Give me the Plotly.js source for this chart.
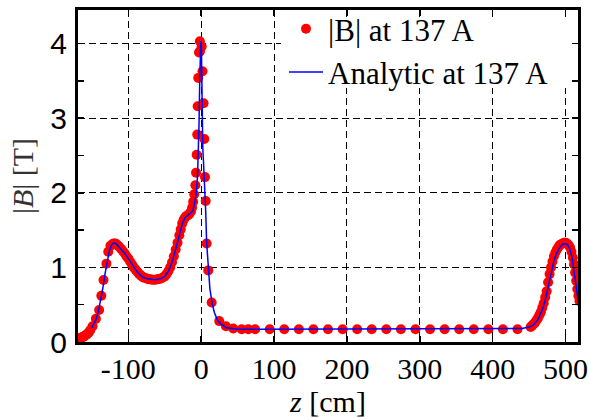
<!DOCTYPE html>
<html>
<head>
<meta charset="utf-8">
<script src="https://cdn.plot.ly/plotly-3.0.1.min.js"></script>
<style>
html,body{margin:0;padding:0;background:#fff;}
#chart{width:589px;height:418px;}
</style>
</head>
<body>
<div id="chart"></div>
<script>
// Measured |B| (red dots): position z [cm] and field [T]
const measZ = [
  -169, -167.5, -166, -164.5, -163, -161.5, -160, -158.5, -157, -155.5, -154, -152, -149,
  -144.5, -140, -137, -134, -130, -127.5, -124.5,
  -122, -120, -118, -116, -114, -112, -110, -107.5, -105, -102.5, -100, -97.5, -95, -92.5,
  -90, -87.5, -85, -82.5, -80, -77.5, -75, -72.5, -70, -67.5, -65, -62.5, -60, -57.5,
  -55, -52.5, -50, -47.5, -45, -42.5, -40, -37.5, -35, -32.5, -30, -28, -26, -24, -22,
  -20, -18, -16, -14, -12.5, -11, -9.5, -8, -7, -6.2, -5.4, -4.8, -4, -3, -1.8, -1.5,
  0.7, 1.8, 3.3, 4.3, 5.2, 6.2, 7.5, 9.7, 14.4, 24.8, 34, 44, 55.6, 64.6, 74,
  94, 114, 134, 154, 174, 194, 214, 234, 254, 274, 294, 314, 334, 354, 374, 394, 414, 434,
  452, 454, 456, 458, 460, 462, 464, 466, 468, 470, 472, 474, 476, 478, 480, 482, 484,
  486, 488, 490, 492, 494, 496, 498, 500, 502, 504, 506, 508, 510, 511.5, 513, 514.5,
  516, 517.5, 519
];
const measB = [
  0.04, 0.045, 0.05, 0.06, 0.065, 0.07, 0.08, 0.09, 0.10, 0.115, 0.13, 0.16, 0.21,
  0.31, 0.43, 0.62, 0.83, 1.05, 1.21, 1.29,
  1.31, 1.32, 1.32, 1.31, 1.29, 1.27, 1.25, 1.22, 1.19, 1.15, 1.12, 1.08, 1.04, 1.00,
  0.97, 0.94, 0.91, 0.89, 0.87, 0.86, 0.85, 0.84, 0.84, 0.835, 0.835, 0.835, 0.84, 0.845,
  0.85, 0.865, 0.88, 0.91, 0.95, 1.00, 1.07, 1.15, 1.24, 1.33, 1.43, 1.51, 1.59, 1.64, 1.67,
  1.69, 1.70, 1.72, 1.75, 1.80, 1.88, 1.98, 2.10, 2.27, 2.51, 2.78, 3.16, 3.54, 3.88, 4.03, 3.90,
  3.96, 3.63, 3.20, 2.72, 2.21, 1.89, 1.32, 0.96, 0.53, 0.28, 0.21, 0.18, 0.17, 0.17, 0.17,
  0.17, 0.17, 0.17, 0.17, 0.17, 0.17, 0.17, 0.17, 0.17, 0.17, 0.17, 0.17, 0.17, 0.17, 0.17, 0.17, 0.17, 0.17,
  0.20, 0.22, 0.24, 0.26, 0.29, 0.32, 0.36, 0.40, 0.46, 0.52, 0.60, 0.68, 0.80, 0.91, 1.00, 1.08, 1.15,
  1.20, 1.24, 1.27, 1.30, 1.31, 1.32, 1.33, 1.33, 1.32, 1.30, 1.27, 1.21, 1.13, 1.04, 0.93, 0.82,
  0.71, 0.62, 0.55
];

// Analytic field (blue line)
const anaZ = [
  -150, -147, -144, -141, -138, -135, -132, -129, -126, -123, -120, -117, -114, -110, -105,
  -100, -95, -90, -85, -80, -75, -70, -65, -60, -55, -50, -45, -40, -36, -32, -28, -25, -22,
  -19, -16, -13, -11, -9, -7, -5, -4, -3, -2, -1, -0.5, 0.3, 1.2, 2.2, 3.5, 5, 6.2, 7.5,
  9.5, 12, 15, 18, 22, 27, 35, 50, 80, 150, 250, 350, 420, 440, 450, 456, 462, 468, 472,
  476, 480, 484, 488, 492, 496, 500, 503, 506, 509, 512, 515, 518
];
const anaB = [
  0.19, 0.24, 0.31, 0.41, 0.55, 0.72, 0.91, 1.09, 1.22, 1.30, 1.33, 1.32, 1.29, 1.25, 1.19,
  1.12, 1.04, 0.97, 0.91, 0.87, 0.85, 0.84, 0.835, 0.84, 0.85, 0.88, 0.95, 1.07, 1.20, 1.35, 1.51, 1.61, 1.67,
  1.69, 1.71, 1.74, 1.77, 1.85, 1.97, 2.22, 2.50, 2.90, 3.50, 3.95, 4.03, 3.95, 3.20, 2.60, 2.35, 2.05, 1.75, 1.33,
  1.00, 0.71, 0.52, 0.40, 0.30, 0.24, 0.19, 0.17, 0.17, 0.17, 0.17, 0.17, 0.17, 0.18, 0.20, 0.23, 0.30, 0.43, 0.56,
  0.74, 0.93, 1.09, 1.20, 1.27, 1.31, 1.32, 1.30, 1.24, 1.12, 0.93, 0.72, 0.50
];

const xTickVals = [-100, 0, 100, 200, 300, 400, 500];
const xTickText = ['-100', '0', '100', '200', '300', '400', '500'];
const yTickVals = [0, 1, 2, 3, 4];
const yTickText = ['0', '1', '2', '3', '4'];

const serif = 'Liberation Serif, Times New Roman, serif';
const sans = 'Liberation Sans, Arial, sans-serif';

const traces = [
  {
    x: measZ, y: measB, type: 'scatter', mode: 'markers',
    name: '|B| at 137 A',
    marker: {color: '#ff0000', size: 10, line: {width: 0}}
  },
  {
    x: anaZ, y: anaB, type: 'scatter', mode: 'lines',
    name: 'Analytic at 137 A',
    line: {color: '#0000ff', width: 1.5}
  }
];

const layout = {
  width: 589, height: 418,
  margin: {l: 78, r: 11, t: 10, b: 76, pad: 0, autoexpand: false},
  paper_bgcolor: '#ffffff', plot_bgcolor: '#ffffff',
  showlegend: true,
  legend: {
    x: 0.412, xanchor: 'left', xref: 'paper',
    y: 0.995, yanchor: 'top', yref: 'container',
    bgcolor: 'rgba(255,255,255,0)', borderwidth: 0,
    font: {family: serif, size: 31, color: '#000'},
    tracegroupgap: 0, itemwidth: 34
  },
  shapes: [
    {type: 'rect', xref: 'paper', yref: 'paper', x0: 0.406, x1: 0.986, y0: 0.765, y1: 0.979,
     fillcolor: '#ffffff', line: {width: 0}, layer: 'above'}
  ],
  xaxis: {
    range: [-169, 517],
    tickmode: 'array', tickvals: xTickVals, ticktext: xTickText,
    ticks: 'inside', ticklen: 6, tickwidth: 1.5, tickcolor: '#000',
    showline: true, linewidth: 3, linecolor: '#000', mirror: 'ticks',
    showgrid: true, gridcolor: '#000', gridwidth: 1, griddash: '7px,4px',
    zeroline: false,
    tickfont: {family: serif, size: 30, color: '#000'},
    ticklabelstandoff: -2,
    title: {text: '<i>z</i> [cm]', font: {family: serif, size: 30, color: '#000'}, standoff: 0}
  },
  yaxis: {
    range: [0, 4.45],
    tickmode: 'array', tickvals: yTickVals, ticktext: yTickText,
    ticks: 'inside', ticklen: 6, tickwidth: 1.5, tickcolor: '#000',
    minor: {dtick: 0.5, tick0: 0, ticks: 'inside', ticklen: 6, tickwidth: 1.5, tickcolor: '#000', showgrid: false},
    showline: true, linewidth: 3, linecolor: '#000', mirror: 'ticks',
    showgrid: true, gridcolor: '#000', gridwidth: 1, griddash: '7px,4px',
    zeroline: false,
    tickfont: {family: sans, size: 30, color: '#000'},
    ticklabelstandoff: 2,
    title: {text: '|<i>B</i>| [T]', font: {family: serif, size: 30, color: '#333'}, standoff: 8}
  }
};

Plotly.newPlot('chart', traces, layout, {staticPlot: true, displayModeBar: false});
</script>
</body>
</html>
